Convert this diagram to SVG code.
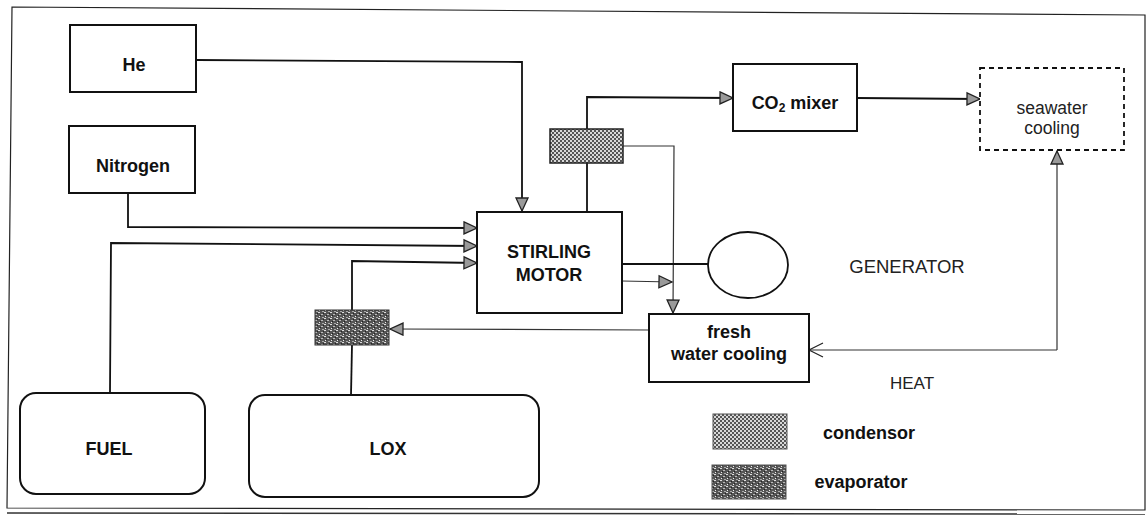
<svg xmlns="http://www.w3.org/2000/svg" width="1147" height="518" viewBox="0 0 1147 518">
<style>
.box{fill:#fff;stroke:#111;stroke-width:2}
.thin{fill:none;stroke:#222;stroke-width:1.2}
.ln{fill:none;stroke:#111;stroke-width:1.8}
.lnt{fill:none;stroke:#333;stroke-width:1.2}
.b{font-family:"Liberation Sans",Arial,sans-serif;font-weight:bold;fill:#111;text-anchor:middle;font-size:18px}
.n{font-family:"Liberation Sans",Arial,sans-serif;fill:#222;text-anchor:middle}
</style>
<defs>
<marker id="ah" markerUnits="userSpaceOnUse" markerWidth="16" markerHeight="14" refX="13" refY="6" orient="auto" overflow="visible">
<path d="M0,0 L13,6 L0,12 z" fill="#9a9a9a" stroke="#222" stroke-width="1.3"/>
</marker>
<marker id="open" markerUnits="userSpaceOnUse" markerWidth="16" markerHeight="16" refX="14" refY="7" orient="auto" overflow="visible">
<path d="M0,0 L14,7 L0,14" fill="none" stroke="#222" stroke-width="1.2"/>
</marker>
<pattern id="cond" width="4" height="4" patternUnits="userSpaceOnUse">
<rect width="4" height="4" fill="#d8d8d8"/>
<rect width="2" height="2" fill="#555"/>
<rect x="2" y="2" width="2" height="2" fill="#555"/>
</pattern>
<pattern id="evap" width="6" height="6" patternUnits="userSpaceOnUse">
<rect width="6" height="6" fill="#555"/>
<rect x="0" y="0" width="2" height="1" fill="#ddd"/>
<rect x="3" y="2" width="2" height="1" fill="#bbb"/>
<rect x="1" y="4" width="1" height="1" fill="#eee"/>
<rect x="4" y="5" width="2" height="1" fill="#aaa"/>
<rect x="5" y="1" width="1" height="1" fill="#222"/>
<rect x="2" y="3" width="1" height="1" fill="#222"/>
</pattern>
</defs>
<rect width="1147" height="518" fill="#fff"/>
<g id="frame">
<path d="M12,7 L1145,15 L1145,510 L7,508 z" class="thin"/>
<line x1="7" y1="513" x2="1145" y2="514" stroke="#333" stroke-width="1.5"/>
</g>
<g id="connectors">
<polyline class="ln" points="196,60 522,62 522,211" marker-end="url(#ah)"/>
<polyline class="ln" points="128,193 128,227 477,228" marker-end="url(#ah)"/>
<polyline class="ln" points="110,393 111,243 477,246" marker-end="url(#ah)"/>
<polyline class="ln" points="352,310 352,261 477,263" marker-end="url(#ah)"/>
<line class="ln" x1="352" y1="345" x2="351" y2="395"/>
<line class="ln" x1="587" y1="163" x2="587" y2="212"/>
<polyline class="ln" points="587,129 587,97 733,98" marker-end="url(#ah)"/>
<polyline class="lnt" points="623,146 674,146 673,313" marker-end="url(#ah)"/>
<line class="ln" x1="857" y1="98" x2="980" y2="99" marker-end="url(#ah)"/>
<line class="ln" x1="622" y1="264" x2="708" y2="264"/>
<line class="lnt" x1="622" y1="281" x2="672" y2="282" marker-end="url(#ah)"/>
<line class="lnt" x1="649" y1="330" x2="390" y2="329" marker-end="url(#ah)"/>
<line class="lnt" x1="1057" y1="350" x2="809" y2="350" marker-end="url(#open)"/>
<line class="lnt" x1="1057" y1="350" x2="1057" y2="151" marker-end="url(#ah)"/>
</g>
<g id="he"><rect class="box" x="70" y="25" width="126" height="67"/><text class="b" x="134" y="71">He</text></g>
<g id="nitrogen"><rect class="box" x="69" y="126" width="126" height="67"/><text class="b" x="133" y="172">Nitrogen</text></g>
<g id="stirling"><rect class="box" x="477" y="212" width="145" height="101"/><text class="b" x="549" y="258" font-size="18.5">STIRLING</text><text class="b" x="549" y="281" font-size="18.5">MOTOR</text></g>
<g id="condensor"><rect x="550" y="129" width="73" height="34" fill="url(#cond)" stroke="#222" stroke-width="1.5"/></g>
<g id="evaporator"><rect x="315" y="310" width="74" height="35" fill="url(#evap)" stroke="#333" stroke-width="1"/></g>
<g id="co2mixer"><rect class="box" x="733" y="64" width="124" height="67"/><text class="b" x="795" y="109">CO<tspan font-size="12" dy="3">2</tspan><tspan dy="-3"> mixer</tspan></text></g>
<g id="seawater"><rect x="980" y="68" width="144" height="82" fill="#fff" stroke="#111" stroke-width="1.8" stroke-dasharray="5,4"/><text class="n" x="1052" y="114" font-size="17.5">seawater</text><text class="n" x="1052" y="134" font-size="17.5">cooling</text></g>
<g id="generator"><ellipse cx="748" cy="265" rx="40" ry="33" fill="#fff" stroke="#111" stroke-width="1.8"/></g>
<g id="freshwater"><rect class="box" x="649" y="314" width="160" height="68"/><text class="b" x="729" y="338">fresh</text><text class="b" x="729" y="360">water cooling</text></g>
<g id="fuel"><rect class="box" x="20" y="393" width="185" height="101" rx="16"/><text class="b" x="109" y="455">FUEL</text></g>
<g id="lox"><rect class="box" x="249" y="395" width="290" height="102" rx="16"/><text class="b" x="388" y="455">LOX</text></g>
<g id="labels">
<text class="n" x="907" y="273" font-size="18.5">GENERATOR</text>
<text class="n" x="912" y="389" font-size="17" fill="#555">HEAT</text>
</g>
<g id="legend">
<rect x="713" y="414" width="74" height="35" fill="url(#cond)" stroke="#555" stroke-width="1"/>
<rect x="712" y="465" width="74" height="34" fill="url(#evap)" stroke="#555" stroke-width="1"/>
<text class="b" x="869" y="439">condensor</text>
<text class="b" x="861" y="488">evaporator</text>
</g>
</svg>
